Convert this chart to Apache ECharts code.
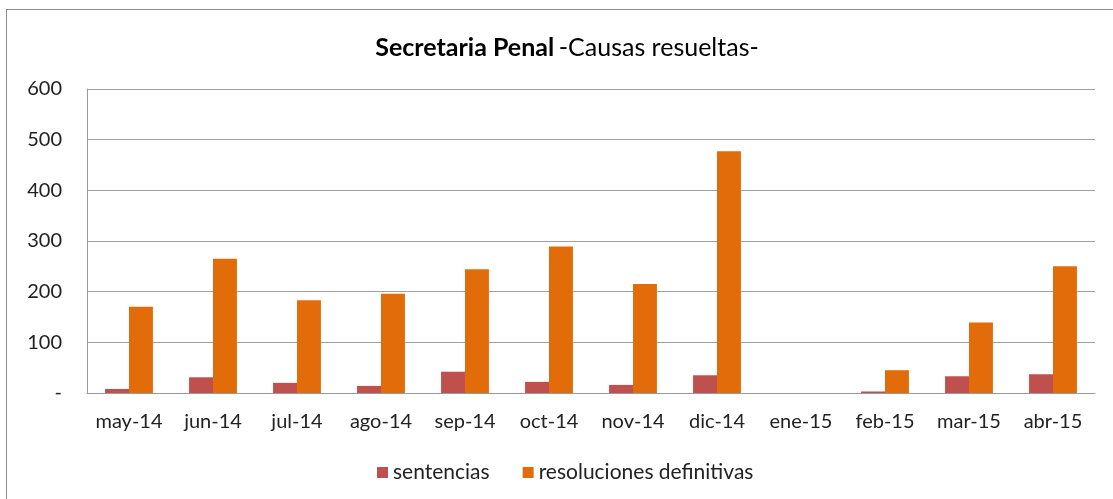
<!DOCTYPE html>
<html>
<head>
<meta charset="utf-8">
<script src="https://cdn.jsdelivr.net/npm/echarts@6/dist/echarts.min.js"></script>
<style>
html,body{margin:0;padding:0;background:#fff;overflow:hidden;}
#frame{position:absolute;left:6px;top:9px;width:1200px;height:600px;border:1px solid #8c8c8c;}
#chart{position:absolute;left:0;top:0;width:1113px;height:499px;}
</style>
</head>
<body>
<div id="frame"></div>
<div id="chart"></div>
<script>
var meses = ["may-14","jun-14","jul-14","ago-14","sep-14","oct-14","nov-14","dic-14","ene-15","feb-15","mar-15","abr-15"];
var sentencias = [8, 31, 20, 14, 42, 22, 16, 35, 0, 3, 33, 37];
var resoluciones = [170, 265, 183, 196, 244, 289, 215, 477, 0, 45, 139, 250];

var chart = echarts.init(document.getElementById("chart"));
var fuente = "Lato, 'Open Sans', sans-serif";

chart.setOption({
	animation: false,
	textStyle: {fontFamily: fuente},
	title: {
		text: "{b|Secretaria Penal} {n|-Causas resueltas-}",
		left: 562,
		textAlign: "center",
		top: 30,
		textStyle: {
			fontWeight: "normal",
			rich: {
				b: {fontFamily: fuente, fontSize: 25, fontWeight: "bold", color: "#000"},
				n: {fontFamily: fuente, fontSize: 25, fontWeight: "normal", color: "#000"}
			}
		}
	},
	legend: {
		top: 457,
		left: 372,
		itemWidth: 11,
		itemHeight: 11,
		itemGap: 33,
		icon: "rect",
		textStyle: {fontSize: 21, color: "#222", fontFamily: fuente},
		data: ["sentencias", "resoluciones definitivas"]
	},
	grid: {left: 87, right: 18, top: 89, bottom: 106},
	xAxis: {
		type: "category",
		data: meses,
		axisTick: {show: false},
		axisLine: {lineStyle: {color: "#999"}},
		axisLabel: {fontSize: 20, color: "#222", margin: 19, interval: 0}
	},
	yAxis: {
		type: "value",
		min: 0,
		max: 600,
		interval: 100,
		axisLine: {show: true, lineStyle: {color: "#999"}},
		axisTick: {show: false},
		splitLine: {lineStyle: {color: "#a0a0a0"}},
		axisLabel: {
			fontSize: 20,
			color: "#222",
			margin: 25,
			formatter: function (v) { return v === 0 ? "-" : v; }
		}
	},
	series: [
		{
			name: "sentencias",
			type: "bar",
			data: sentencias,
			barGap: "0%",
			barCategoryGap: "43%",
			itemStyle: {color: "#C0504D"}
		},
		{
			name: "resoluciones definitivas",
			type: "bar",
			data: resoluciones,
			barGap: "0%",
			barCategoryGap: "43%",
			itemStyle: {color: "#E36C0A"}
		}
	]
});
</script>
</body>
</html>
